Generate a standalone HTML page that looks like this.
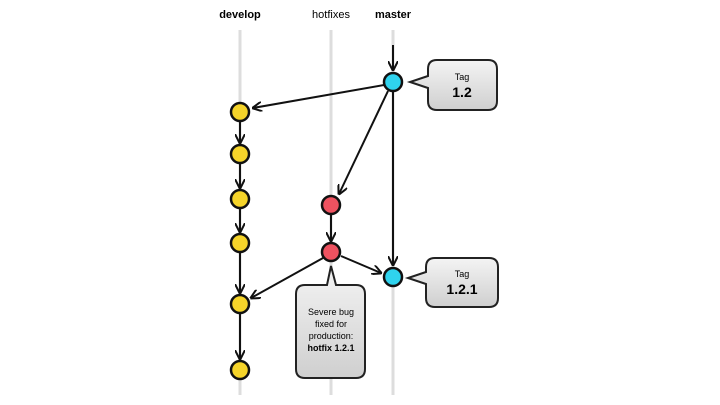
<!DOCTYPE html>
<html><head><style>body{margin:0;background:#fff}svg{display:block}text{font-family:"Liberation Sans",sans-serif}</style></head><body>
<svg width="720" height="405" viewBox="0 0 720 405">
<defs>
<marker id="a" viewBox="0 0 10 10" refX="9" refY="5" markerWidth="5" markerHeight="5" orient="auto"><path d="M0,0 L10,5 L0,10" fill="none" stroke="#111" stroke-width="2"/></marker>
<linearGradient id="g" x1="0" y1="0" x2="0" y2="1"><stop offset="0" stop-color="#f4f4f4"/><stop offset="1" stop-color="#cfcfcf"/></linearGradient>
</defs>
<text x="240" y="18" font-size="11" font-weight="bold" text-anchor="middle">develop</text>
<text x="331" y="18" font-size="11" text-anchor="middle">hotfixes</text>
<text x="393" y="18" font-size="11" font-weight="bold" text-anchor="middle">master</text>
<g stroke="#ddd" stroke-width="3"><line x1="240" y1="30" x2="240" y2="395"/><line x1="331" y1="30" x2="331" y2="395"/><line x1="393" y1="30" x2="393" y2="395"/></g>
<g stroke="#111" stroke-width="2" fill="none" marker-end="url(#a)">
<line x1="393" y1="45" x2="393" y2="70"/>
<line x1="384" y1="85" x2="253" y2="108"/>
<line x1="388" y1="91" x2="339" y2="194"/>
<line x1="393" y1="92" x2="393" y2="265"/>
<line x1="240" y1="121" x2="240" y2="143"/>
<line x1="240" y1="163" x2="240" y2="188"/>
<line x1="240" y1="208" x2="240" y2="232"/>
<line x1="240" y1="252" x2="240" y2="293"/>
<line x1="240" y1="313" x2="240" y2="359"/>
<line x1="331" y1="214" x2="331" y2="241"/>
<line x1="323" y1="258" x2="251" y2="298"/>
<line x1="341" y1="256" x2="381" y2="273"/>
</g>
<g stroke="#111" stroke-width="2.5">
<circle cx="393" cy="82" r="9" fill="#2fd3ee"/>
<circle cx="393" cy="277" r="9" fill="#2fd3ee"/>
<circle cx="331" cy="205" r="9" fill="#ee5260"/>
<circle cx="331" cy="252" r="9" fill="#ee5260"/>
<g fill="#f5d42a"><circle cx="240" cy="112" r="9"/><circle cx="240" cy="154" r="9"/><circle cx="240" cy="199" r="9"/><circle cx="240" cy="243" r="9"/><circle cx="240" cy="304" r="9"/><circle cx="240" cy="370" r="9"/></g>
</g>
<g stroke="#222" stroke-width="2" fill="url(#g)">
<path d="M437,60 H488 Q497,60 497,69 V101 Q497,110 488,110 H437 Q428,110 428,101 V88 L410,82 L428,76 V69 Q428,60 437,60 Z"/>
<path d="M435,258 H489 Q498,258 498,267 V298 Q498,307 489,307 H435 Q426,307 426,298 V284 L408,278 L426,272 V267 Q426,258 435,258 Z"/>
<path d="M305,285 H327 L331,266 L336,285 H356 Q365,285 365,294 V369 Q365,378 356,378 H305 Q296,378 296,369 V294 Q296,285 305,285 Z"/>
</g>
<text x="462" y="80" font-size="9" text-anchor="middle">Tag</text>
<text x="462" y="97" font-size="14" font-weight="bold" text-anchor="middle">1.2</text>
<text x="462" y="277" font-size="9" text-anchor="middle">Tag</text>
<text x="462" y="294" font-size="14" font-weight="bold" text-anchor="middle">1.2.1</text>
<g font-size="9" text-anchor="middle"><text x="331" y="315">Severe bug</text><text x="331" y="327">fixed for</text><text x="331" y="339">production:</text><text x="331" y="351" font-weight="bold">hotfix 1.2.1</text></g>
</svg>
</body></html>
